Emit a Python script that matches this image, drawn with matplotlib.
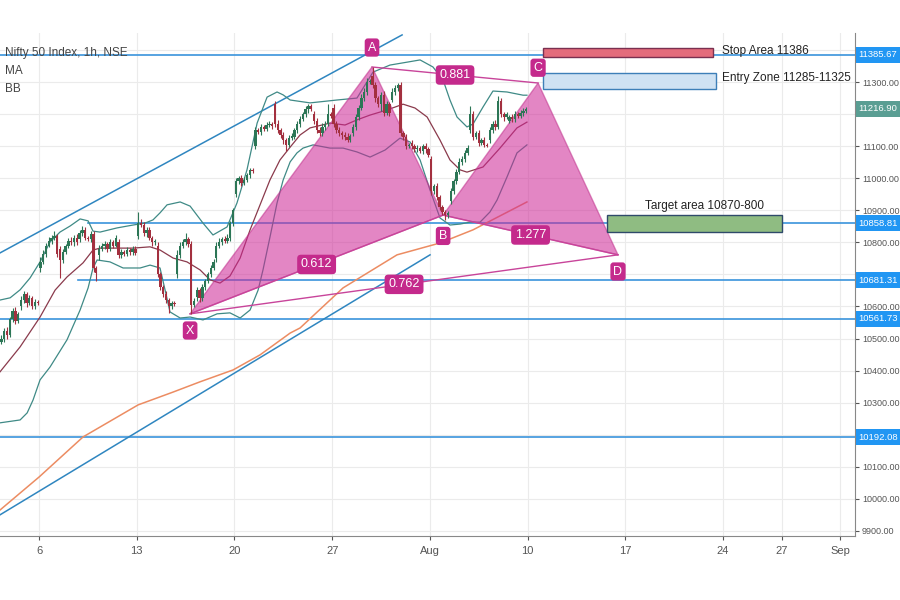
import numpy as np
import matplotlib.pyplot as plt
from matplotlib.patches import Rectangle, Polygon

plt.rcParams['font.family'] = ['Liberation Sans', 'DejaVu Sans']

# hourly closes, 7 bars per trading day (Jul 2 .. Aug 7)
closes = [
    10500, 10525, 10510, 10560, 10585, 10555, 10575,
    10620, 10640, 10610, 10625, 10600, 10615, 10610,
    10740, 10765, 10790, 10805, 10815, 10820, 10765,
    10745, 10770, 10790, 10805, 10800, 10815, 10800,
    10830, 10840, 10815, 10810, 10825, 10720, 10705,
    10780, 10790, 10795, 10780, 10800, 10790, 10813,
    10760, 10770, 10765, 10775, 10770, 10780, 10768,
    10860, 10855, 10830, 10840, 10815, 10800, 10802,
    10700, 10660, 10640, 10620, 10600, 10610, 10607,
    10760, 10790, 10800, 10810, 10795, 10605, 10618,
    10650, 10625, 10660, 10680, 10700, 10720, 10740,
    10790, 10800, 10810, 10805, 10815, 10860, 10901,
    10990, 11000, 10985, 10995, 11010, 11025, 11022,
    11150, 11145, 11160, 11155, 11165, 11170, 11162,
    11170, 11150, 11135, 11120, 11105, 11125, 11132,
    11150, 11170, 11185, 11200, 11215, 11225, 11215,
    11180, 11150, 11140, 11160, 11170, 11200, 11194,
    11170, 11150, 11140, 11135, 11130, 11120, 11131,
    11160, 11190, 11220, 11250, 11270, 11300, 11300,
    11290, 11250, 11230, 11260, 11205, 11230, 11202,
    11270, 11280, 11290, 11140, 11130, 11100, 11102,
    11100, 11090, 11095, 11085, 11100, 11090, 11073,
    10960, 10975, 10940, 10910, 10895, 10885, 10891,
    10960, 10990, 11020, 11050, 11060, 11080, 11095,
    11200, 11130, 11140, 11110, 11120, 11105, 11102,
    11150, 11170, 11160, 11240, 11200, 11190, 11200,
    11190, 11185, 11200, 11195, 11205, 11210, 11216.9,
]
day_opens = [10490, 10600, 10720, 10780, 10810, 10760, 10800, 10820, 10790,
             10700, 10630, 10750, 10950, 11100, 11230, 11130, 11200, 11220,
             11140, 11320, 11245, 11110, 11060, 10930, 11150, 11120, 11180]
wick_hi = [
    10, 8, 12, 6, 9, 14, 7,   12, 8, 6, 10, 9, 7, 5,   15, 10, 8, 12, 9, 14, 6,
    8, 10, 6, 9, 12, 7, 10,   10, 12, 8, 6, 9, 10, 7,  12, 8, 10, 6, 9, 8, 10,
    10, 8, 6, 9, 7, 10, 8,    34, 12, 10, 8, 9, 6, 8,  10, 8, 6, 9, 7, 8, 6,
    15, 12, 10, 20, 8, 10, 7, 12, 8, 10, 6, 9, 8, 7,   10, 12, 8, 9, 10, 8, 6,
    12, 8, 10, 9, 7, 8, 6,    10, 8, 9, 7, 10, 8, 6,   10, 12, 8, 9, 7, 10, 8,
    8, 10, 9, 7, 10, 8, 6,    10, 8, 9, 12, 10, 30, 8, 10, 8, 9, 7, 8, 10, 6,
    8, 10, 9, 12, 10, 12, 8,  27, 10, 8, 9, 12, 10, 8, 10, 12, 8, 10, 8, 9, 7,
    10, 8, 9, 7, 8, 10, 6,    10, 8, 9, 7, 8, 6, 8,    10, 8, 9, 12, 10, 8, 9,
    25, 10, 8, 9, 7, 8, 6,    10, 8, 12, 15, 9, 8, 7,  8, 10, 9, 7, 8, 10, 6,
]
wick_lo = [
    8, 10, 12, 6, 8, 10, 7,   10, 8, 12, 6, 9, 8, 7,   12, 8, 10, 6, 9, 8, 10,
    55, 8, 6, 9, 7, 10, 8,    8, 10, 9, 7, 8, 12, 25,  15, 8, 10, 9, 7, 8, 6,
    10, 8, 9, 7, 10, 8, 6,    10, 8, 9, 12, 8, 10, 7,  8, 10, 12, 9, 20, 8, 6,
    10, 8, 9, 7, 10, 30, 8,   12, 10, 8, 9, 7, 8, 6,   10, 8, 9, 7, 8, 10, 8,
    10, 8, 9, 7, 8, 10, 6,    10, 8, 9, 7, 8, 6, 8,    10, 8, 9, 12, 20, 8, 6,
    8, 10, 9, 7, 8, 10, 6,    10, 8, 9, 7, 10, 8, 6,   10, 8, 9, 12, 10, 8, 6,
    8, 10, 9, 7, 8, 10, 6,    10, 12, 8, 20, 10, 8, 9, 8, 10, 9, 7, 12, 10, 6,
    10, 8, 9, 7, 8, 10, 8,    12, 10, 9, 8, 10, 15, 8, 10, 8, 9, 7, 8, 10, 6,
    10, 12, 8, 9, 7, 8, 6,    10, 8, 9, 7, 8, 10, 6,   8, 10, 9, 7, 8, 10, 6,
]

# indicator lines (x in trading days from Jul 6)
bb_up_x = [-2.0, -1.48, -0.97, -0.46, 0.05, 0.56, 1.07, 1.59, 2.10, 2.51, 2.76, 3.12,
           3.99, 4.81, 5.42, 5.83, 6.19, 6.55, 7.22, 7.73, 8.39, 8.90, 9.62, 10.13,
           10.64, 11.16, 11.67, 12.18, 12.49, 12.85, 13.87, 15.25, 16.27, 17.09, 17.96,
           18.83, 19.50, 20.16, 20.68, 21.03, 21.39, 21.90, 22.21, 22.72, 23.23, 23.95,
           24.77, 24.97]
bb_up = [10620, 10627, 10652, 10689, 10739, 10801, 10832, 10851, 10873, 10867, 10835,
         10832, 10845, 10854, 10860, 10870, 10892, 10917, 10926, 10913, 10860, 10823,
         10848, 10923, 11026, 11172, 11253, 11269, 11260, 11244, 11235, 11244, 11250,
         11331, 11353, 11362, 11369, 11347, 11306, 11244, 11191, 11160, 11169, 11222,
         11272, 11269, 11259, 11259]
bb_lo_x = [-2.0, -0.97, -0.61, -0.31, 0.05, 0.56, 1.43, 2.10, 2.51, 2.76, 2.97, 3.63,
           4.30, 5.17, 5.68, 6.19, 6.45, 6.70, 7.22, 7.73, 8.39, 9.11, 9.77, 10.29,
           10.80, 11.21, 11.46, 11.82, 12.18, 12.49, 12.85, 13.20, 13.51, 14.02, 14.89,
           15.56, 16.27, 16.94, 17.71, 18.47, 18.99, 19.50, 20.01, 20.52, 21.03, 21.55,
           22.06, 22.57, 23.08, 23.44, 23.95, 24.46, 24.97]
bb_lo = [10237, 10246, 10268, 10308, 10371, 10411, 10496, 10589, 10658, 10720, 10745,
         10739, 10720, 10720, 10729, 10720, 10651, 10583, 10564, 10567, 10558, 10577,
         10580, 10564, 10589, 10651, 10714, 10817, 10923, 10994, 11051, 11079, 11094,
         11104, 11094, 11094, 11082, 11066, 11088, 11125, 11113, 11057, 10963, 10876,
         10854, 10857, 10863, 10863, 10895, 10932, 11004, 11079, 11104]
ma_x = [-2.0, -0.97, 0.05, 0.82, 1.43, 2.25, 2.76, 3.12, 3.99, 4.81, 5.68, 6.19, 6.86,
        7.57, 8.24, 8.75, 9.26, 9.77, 10.29, 10.80, 11.31, 11.82, 12.33, 12.85, 13.36,
        13.87, 14.89, 15.66, 16.27, 16.94, 17.81, 18.63, 19.24, 19.86, 20.52, 21.03,
        21.55, 21.90, 22.72, 23.59, 24.46, 24.97]
ma = [10396, 10474, 10567, 10651, 10692, 10736, 10776, 10782, 10782, 10782, 10786,
      10776, 10751, 10739, 10714, 10683, 10673, 10695, 10751, 10839, 10917, 10995,
      11057, 11097, 11135, 11157, 11172, 11166, 11182, 11197, 11213, 11231, 11219,
      11191, 11119, 11057, 11026, 11019, 11035, 11094, 11157, 11175]
ma_long_x = [-2.0, 0.0, 2.25, 5.07, 6.86, 8.24, 9.93, 11.31, 12.85, 13.36, 15.56,
             18.32, 20.52, 22.21, 24.97]
ma_long = [9965, 10068, 10193, 10293, 10333, 10365, 10402, 10449, 10517, 10533,
           10658, 10761, 10798, 10839, 10926]

# drawings
levels = [11385.67, 10858.81, 10681.31, 10561.73, 10192.08]
level_start = [-2.0, 2.5, 2.0, -2.0, -2.0]
trend_up = ([-2.0, 18.58], [10767, 11447])
trend_lo = ([-2.0, 20.01], [9950, 10761])
pat_names = ['X', 'A', 'B', 'C', 'D']
pat_x = [7.73, 17.04, 20.68, 25.54, 29.63]
pat_y = [10577, 11347, 10885, 11297, 10761]
ratios = ['0.612', '0.881', '1.277', '0.762']
ratio_legs = [(0, 2), (1, 3), (2, 4), (0, 4)]

tick_pos = [0, 5, 10, 15, 20, 25, 30, 35, 38, 41]
tick_lab = ['6', '13', '20', '27', 'Aug', '10', '17', '24', '27', 'Sep']
ytick_vals = [9900, 10000, 10100, 10300, 10400, 10500, 10600, 10800, 10900,
              11000, 11100, 11300]

fig = plt.figure(figsize=(9, 6), dpi=100)
ax = fig.add_axes([0, 64 / 600, 855 / 900, 503 / 600])
ax.set_xlim(-2.0, 41.76)
ax.set_ylim(9884, 11453)
ax.set_axisbelow(True)

# grid
for t in tick_pos:
    ax.axvline(t, color='#ebebeb', lw=0.8, zorder=0)
for v in range(9900, 11500, 100):
    ax.axhline(v, color='#ebebeb', lw=0.8, zorder=0)

# levels + trend lines
for lv, xs in zip(levels, level_start):
    ax.plot([xs, 41.76], [lv, lv], color='#3a94dc', lw=1.2, zorder=2)
ax.plot(*trend_up, color='#2f86c0', lw=1.1, zorder=2)
ax.plot(*trend_lo, color='#2f86c0', lw=1.1, zorder=2)

# indicators
ax.plot(ma_long_x, ma_long, color='#ec8c62', lw=1.1, zorder=3)
ax.plot(bb_up_x, bb_up, color='#3f8a86', lw=0.9, zorder=3)
ax.plot(bb_lo_x, bb_lo, color='#3f8a86', lw=0.9, zorder=3)
ax.plot(ma_x, ma, color='#8a3a4c', lw=0.9, zorder=3)

# harmonic pattern fill
pts = list(zip(pat_x, pat_y))
for tri in [(0, 1, 2), (2, 3, 4)]:
    ax.add_patch(Polygon([pts[k] for k in tri], closed=True, fc='#cd2896', alpha=0.56,
                         ec='#c2368f', lw=1.0, zorder=4))
for (a, b) in ratio_legs:
    ax.plot([pat_x[a], pat_x[b]], [pat_y[a], pat_y[b]], color='#c8449a', lw=1.0, zorder=4)

# candles
n = len(closes)
cx = -2 + (np.arange(n) + 0.5) / 7
opens = [day_opens[i // 7] if i % 7 == 0 else closes[i - 1] for i in range(n)]
o = np.array(opens, float)
c = np.array(closes, float)
hi = np.maximum(o, c) + np.array(wick_hi)
lo = np.minimum(o, c) - np.array(wick_lo)
cols = np.where(c >= o, '#2c7656', '#a3303f')
ax.vlines(cx, lo, hi, colors=cols, lw=0.8, zorder=5)
ax.bar(cx, np.maximum(np.abs(c - o), 3), bottom=np.minimum(o, c), width=0.12,
       color=cols, zorder=6)

# pattern labels
lab_kw = dict(textcoords='offset points', ha='center', va='center', color='white',
              fontsize=9, zorder=9)
offs = [-12, 14, -15, 11, -12]
for name, px_, py_, dy in zip(pat_names, pat_x, pat_y, offs):
    ax.annotate(name, (px_, py_), xytext=(0, dy), **lab_kw,
                bbox=dict(boxstyle='round,pad=0.25', fc='#c42a8c', ec='none'))
for r, (a, b) in zip(ratios, ratio_legs):
    ax.annotate(r, ((pat_x[a] + pat_x[b]) / 2, (pat_y[a] + pat_y[b]) / 2), xytext=(0, 0),
                **lab_kw, bbox=dict(boxstyle='round,pad=0.3', fc='#c42a8c', ec='none'))

# zones
ax.add_patch(Rectangle((25.77, 11378), 8.72, 28, fc='#e46c7c', ec='#7a3050', lw=1, zorder=7))
ax.add_patch(Rectangle((25.77, 11278), 8.88, 50, fc='#cfe2f3', ec='#3d7fb8', lw=1, zorder=7))
ax.add_patch(Rectangle((29.07, 10832), 8.95, 53, fc='#8fbc82', ec='#2f4a6a', lw=1, zorder=7))
ax.text(34.95, 11397, 'Stop Area 11386', fontsize=8.5, color='#222', va='center', zorder=8)
ax.text(34.95, 11314, 'Entry Zone 11285-11325', fontsize=8.5, color='#222', va='center',
        zorder=8)
ax.text(34.08, 10914, 'Target area 10870-800', fontsize=8.5, color='#222', ha='center',
        va='center', zorder=8)

# legend texts
for yy, s in zip([0.960, 0.924, 0.889], ['Nifty 50 Index, 1h, NSE', 'MA', 'BB']):
    ax.text(0.006, yy, s, transform=ax.transAxes, fontsize=8.5, color='#444', va='center')

# axes
for s in ['top', 'left']:
    ax.spines[s].set_visible(False)
ax.spines['right'].set_color('#888')
ax.spines['bottom'].set_color('#888')
ax.yaxis.tick_right()
ax.set_yticks(ytick_vals)
ax.set_yticklabels([f'{v:.2f}' for v in ytick_vals])
ax.set_xticks(tick_pos)
ax.set_xticklabels(tick_lab)
ax.tick_params(axis='x', labelsize=8, colors='#555', length=3, pad=4)
ax.tick_params(axis='y', labelsize=6.5, colors='#555', length=3, pad=2)

# price tags on the scale
tags = levels + [11216.90]
tag_cols = ['#2196f3'] * len(levels) + ['#5a9e93']
for v, col in zip(tags, tag_cols):
    yf = ax.transData.transform((0, v))[1] / fig.bbox.height
    fig.patches.append(Rectangle((856 / 900, yf - 8 / 600), 44 / 900, 16 / 600,
                                 transform=fig.transFigure, fc=col, ec='none', zorder=10))
    fig.text(878 / 900, yf, f'{v:.2f}', ha='center', va='center', fontsize=6.8,
             color='white', zorder=11)

fig.savefig('out.png', dpi=100)
